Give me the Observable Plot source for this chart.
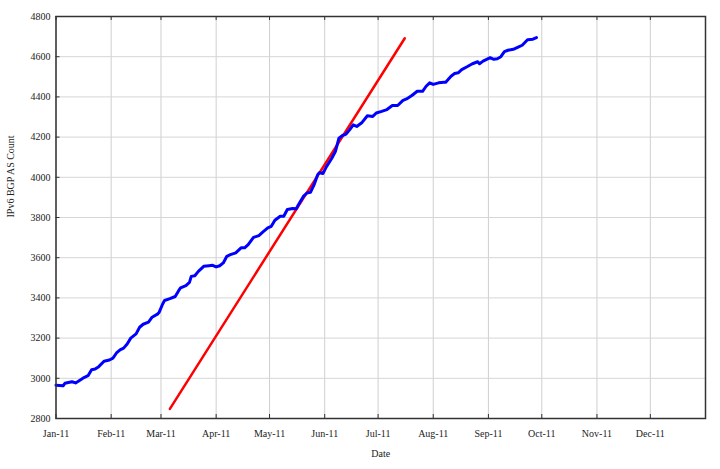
<!DOCTYPE html>
<html>
<head>
<meta charset="utf-8">
<script src="https://cdn.jsdelivr.net/npm/d3@7"></script>
<script src="https://cdn.jsdelivr.net/npm/@observablehq/plot@0.6"></script>
<style>
  html, body { margin: 0; padding: 0; background: #fff; }
</style>
</head>
<body>
<div id="chart"></div>
<script>
// IPv6 BGP AS count (observed, blue)
const asDates = [
  "2011-01-01","2011-01-05","2011-01-06","2011-01-10","2011-01-12","2011-01-14","2011-01-17","2011-01-19",
  "2011-01-21","2011-01-23","2011-01-25","2011-01-28","2011-01-31","2011-02-02","2011-02-04","2011-02-06",
  "2011-02-08","2011-02-10","2011-02-12","2011-02-15","2011-02-17","2011-02-19","2011-02-22","2011-02-24",
  "2011-02-27","2011-02-28","2011-03-02","2011-03-03","2011-03-06","2011-03-09","2011-03-11","2011-03-12",
  "2011-03-15","2011-03-17","2011-03-18","2011-03-20","2011-03-22","2011-03-25","2011-03-28","2011-03-30",
  "2011-04-01","2011-04-03","2011-04-05","2011-04-07","2011-04-09","2011-04-12","2011-04-15","2011-04-17",
  "2011-04-19","2011-04-22","2011-04-25","2011-04-27","2011-04-30","2011-05-02","2011-05-04","2011-05-07",
  "2011-05-09","2011-05-11","2011-05-14","2011-05-16","2011-05-17","2011-05-20","2011-05-22","2011-05-24",
  "2011-05-26","2011-05-28","2011-05-29","2011-05-31","2011-06-02","2011-06-05","2011-06-07","2011-06-09",
  "2011-06-11","2011-06-13","2011-06-15","2011-06-17","2011-06-19","2011-06-22","2011-06-25","2011-06-28",
  "2011-06-30","2011-07-03","2011-07-06","2011-07-09","2011-07-12","2011-07-15","2011-07-17","2011-07-20",
  "2011-07-23","2011-07-26","2011-07-28","2011-07-30","2011-08-01","2011-08-04","2011-08-07","2011-08-08",
  "2011-08-11","2011-08-13","2011-08-15","2011-08-17","2011-08-20","2011-08-23","2011-08-26","2011-08-27",
  "2011-08-29","2011-09-02","2011-09-04","2011-09-06","2011-09-08","2011-09-10","2011-09-12","2011-09-15",
  "2011-09-18","2011-09-20","2011-09-23","2011-09-26","2011-09-28"
];
const asCounts = [
  2966,2963,2975,2983,2977,2988,3005,3013,
  3043,3046,3058,3085,3091,3100,3126,3141,
  3150,3171,3200,3221,3254,3269,3279,3304,
  3319,3329,3371,3387,3396,3407,3437,3450,
  3461,3477,3507,3510,3532,3557,3560,3562,
  3554,3560,3574,3607,3615,3624,3649,3649,
  3665,3701,3710,3726,3748,3756,3786,3806,
  3806,3840,3845,3843,3860,3905,3922,3925,
  3962,4012,4023,4019,4053,4095,4128,4195,
  4208,4215,4236,4261,4253,4273,4306,4303,
  4320,4328,4337,4357,4357,4383,4390,4407,
  4428,4428,4453,4470,4462,4470,4473,4473,
  4503,4516,4520,4536,4550,4565,4575,4565,
  4578,4595,4587,4590,4600,4625,4632,4637,
  4649,4657,4684,4687,4695
];

// Trend line (red)
const trendDates = ["2011-03-06", "2011-07-16"];
const trendCounts = [2848, 4692];

// Axis ticks
const monthTicks = ["2011-01-01","2011-02-01","2011-03-01","2011-04-01","2011-05-01","2011-06-01",
  "2011-07-01","2011-08-01","2011-09-01","2011-10-01","2011-11-01","2011-12-01"];
const yTicks = [2800, 3000, 3200, 3400, 3600, 3800, 4000, 4200, 4400, 4600, 4800];

const xLabel = "Date";
const yLabel = "IPv6 BGP AS Count";

const parse = s => new Date(s + "T00:00:00Z");
const observed = asDates.map((d, i) => ({date: parse(d), value: asCounts[i]}));
const trend = trendDates.map((d, i) => ({date: parse(d), value: trendCounts[i]}));
const months = monthTicks.map(parse);

const W = 720, H = 469;
const mL = 55.5, mR = 15, mT = 16, mB = 51;
const fw = W - mL - mR, fh = H - mT - mB;
const tickLen = 4;

const chart = Plot.plot({
  width: W,
  height: H,
  marginLeft: mL,
  marginRight: mR,
  marginTop: mT,
  marginBottom: mB,
  style: {fontFamily: "'Liberation Serif', 'Times New Roman', serif", fontSize: "10px", background: "#fff", color: "#222"},
  x: {type: "utc", domain: [parse("2011-01-01"), parse("2012-01-01")]},
  y: {domain: [2800, 4800]},
  marks: [
    Plot.gridX(months, {stroke: "#cfcfcf", strokeOpacity: 1, strokeWidth: 1}),
    Plot.gridY(yTicks, {stroke: "#d6d6d6", strokeOpacity: 1, strokeWidth: 1}),
    // inward tick marks
    Plot.tickX(months, {x: d => d, insetTop: fh - tickLen, stroke: "#333", strokeWidth: 1}),
    Plot.tickX(months, {x: d => d, insetBottom: fh - tickLen, stroke: "#333", strokeWidth: 1}),
    Plot.tickY(yTicks, {y: d => d, insetRight: fw - tickLen, stroke: "#333", strokeWidth: 1}),
    Plot.axisX(months, {tickSize: 0, tickPadding: 11, tickFormat: d3.utcFormat("%b-%y"), label: null, fill: "#222"}),
    Plot.axisY(yTicks, {tickSize: 0, tickPadding: 5.5, tickFormat: d => String(d), label: null, fill: "#222"}),
    Plot.line(trend, {x: "date", y: "value", stroke: "#ff0000", strokeWidth: 2.5}),
    Plot.line(observed, {x: "date", y: "value", stroke: "#0000ff", strokeWidth: 3, curve: "linear"}),
    Plot.frame({stroke: "#333", strokeWidth: 1.5}),
    Plot.text([xLabel], {frameAnchor: "bottom", dy: 35, text: d => d, fill: "#222", lineAnchor: "middle"}),
    Plot.text([yLabel], {frameAnchor: "left", dx: -45.5, rotate: -90, text: d => d, fill: "#222", lineAnchor: "middle"})
  ]
});
document.getElementById("chart").appendChild(chart);
</script>
</body>
</html>
